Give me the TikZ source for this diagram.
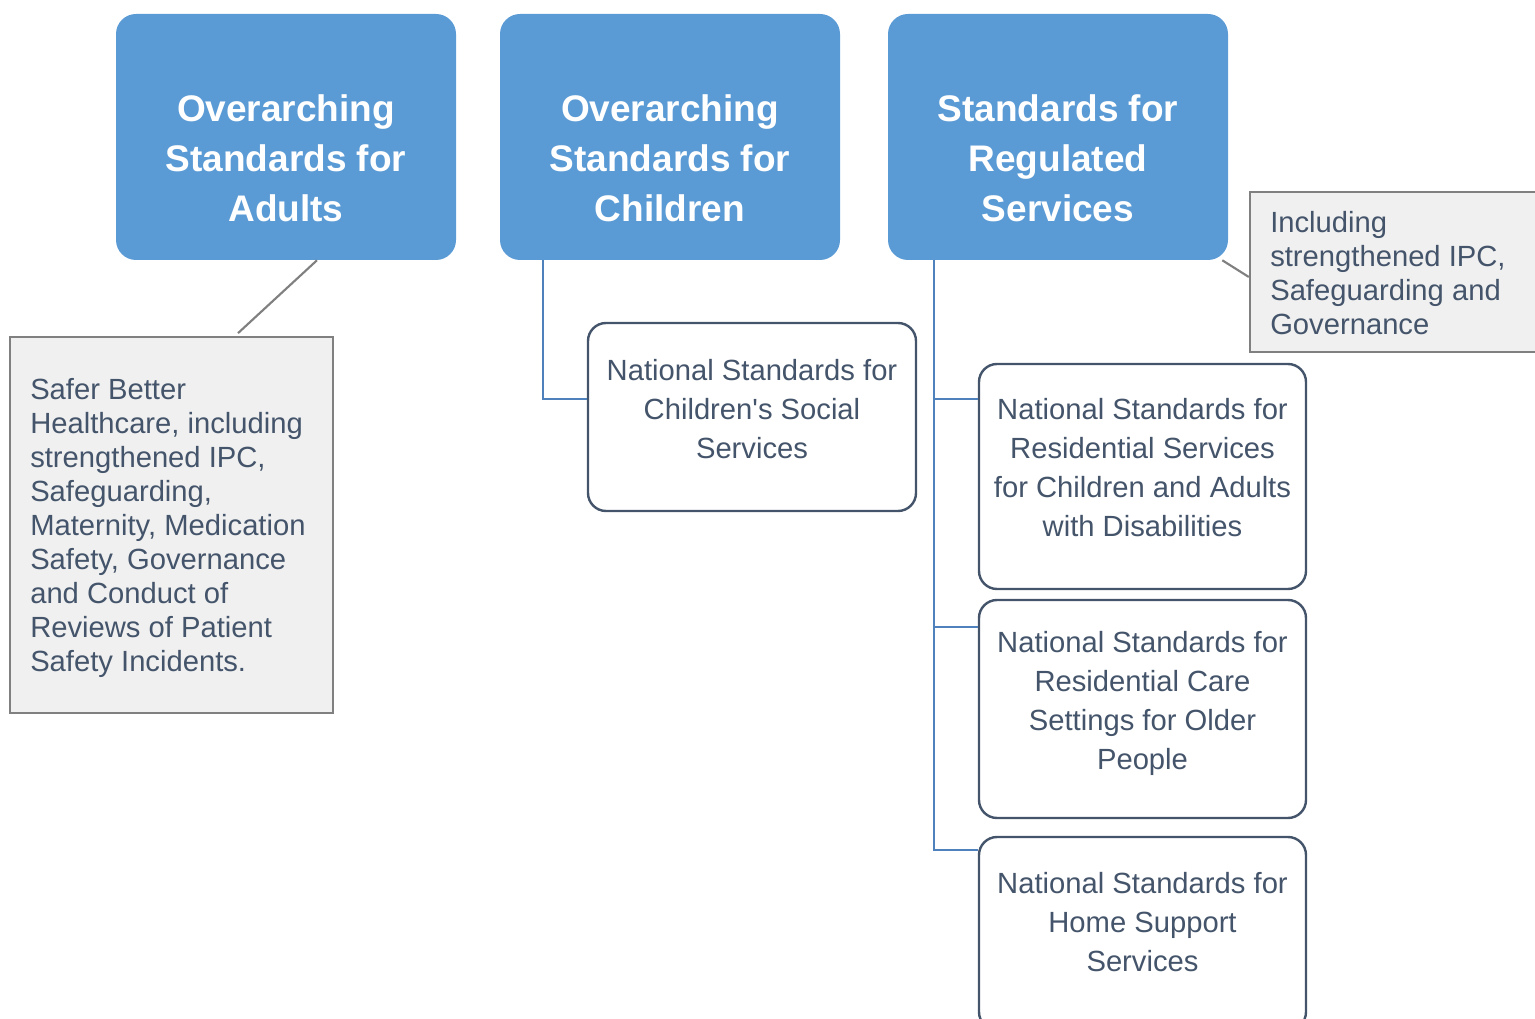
\documentclass[tikz,border=0pt]{standalone}
\usepackage{fontspec}
\setmainfont{Liberation Sans}
\definecolor{bluefill}{HTML}{5B9BD5}
\definecolor{slate}{HTML}{44546A}
\definecolor{linkblue}{HTML}{4F81BD}
\definecolor{grayfill}{HTML}{F0F0F0}
\definecolor{grayline}{HTML}{808080}
\begin{document}
\begin{tikzpicture}[x=0.75pt,y=-0.75pt,
  bluebox/.style={draw=none,fill=bluefill,rounded corners=15pt,minimum width=255pt,minimum height=184.5pt,inner sep=0pt},
  bluetext/.style={text=white,font=\fontsize{27.75pt}{37.5pt}\selectfont\bfseries,align=center,inner sep=0pt},
  whitebox/.style={draw=slate,line width=1.8pt,fill=white,rounded corners=13.5pt,minimum width=245.25pt,inner sep=0pt},
  whitetext/.style={text=slate,font=\fontsize{21.9pt}{29.25pt}\selectfont,align=center,inner sep=0pt},
  graybox/.style={draw=grayline,line width=1.8pt,fill=grayfill,inner sep=0pt},
  graytext/.style={text=slate,font=\fontsize{21.9pt}{25.5pt}\selectfont,align=left,inner sep=0pt,anchor=west},
  gline/.style={draw=grayline,line width=1.6pt},
  bline/.style={draw=linkblue,line width=1.8pt}]
\useasboundingbox (0,0) rectangle (1535,1019);
% top blue boxes
\node[bluebox] (ad) at (286,137) {};
\node[bluetext] (adt) at (286,158) {Overarching\\Standards for\\Adults};
\node[bluebox] (ch) at (670,137) {};
\node[bluetext] (cht) at (670,158) {Overarching\\Standards for\\Children};
\node[bluebox] (rg) at (1058,137) {};
\node[bluetext] (rgt) at (1058,158) {Standards for\\Regulated\\Services};
% gray note boxes
\node[graybox,minimum width=242.25pt,minimum height=282pt] (gl) at (171.5,525) {};
\node[graytext] (glt) at (30,528) {Safer Better\\Healthcare, including\\strengthened IPC,\\Safeguarding,\\Maternity, Medication\\Safety, Governance\\and Conduct of\\Reviews of Patient\\Safety Incidents.};
\node[graybox,minimum width=221.25pt,minimum height=120pt] (gr) at (1397.5,272) {};
\node[graytext] (grt) at (1270,273) {Including\\strengthened IPC,\\Safeguarding and\\Governance};
% white boxes
\node[whitebox,minimum width=246pt,minimum height=141pt] (cs) at (752,417) {};
\node[whitetext] (cst) at (752,409) {National Standards for\\Children\textquotesingle s Social\\Services};
\node[whitebox,minimum height=168.75pt] (ka) at (1142.5,476.5) {};
\node[whitetext] (kat) at (1142.5,468) {National Standards for\\Residential Services\\for Children and Adults\\with Disabilities};
\node[whitebox,minimum height=163.5pt] (kb) at (1142.5,709) {};
\node[whitetext] (kbt) at (1142.5,703) {National Standards for\\Residential Care\\Settings for Older\\People};
\node[whitebox,minimum height=144.75pt] (kc) at (1142.5,933.5) {};
\node[whitetext] (kct) at (1142.5,922) {National Standards for\\Home Support\\Services};
% connectors
\draw[gline] ([xshift=23.25pt]ad.south) -- ([xshift=49.9pt,yshift=2pt]gl.north);
\draw[gline] ([xshift=-4.5pt]rg.south east) -- ([yshift=-3.75pt]gr.west);
\draw[bline] ([xshift=32.25pt]ch.south west) |- ([yshift=-57.75pt]cs.north west);
\draw[bline] ([xshift=34.5pt]rg.south west) |- ([yshift=-27pt]ka.north west);
\draw[bline] ([xshift=34.5pt]rg.south west) |- ([yshift=-21pt]kb.north west);
\draw[bline] ([xshift=34.5pt]rg.south west) |- ([yshift=-10.5pt]kc.north west);
\end{tikzpicture}
\end{document}
